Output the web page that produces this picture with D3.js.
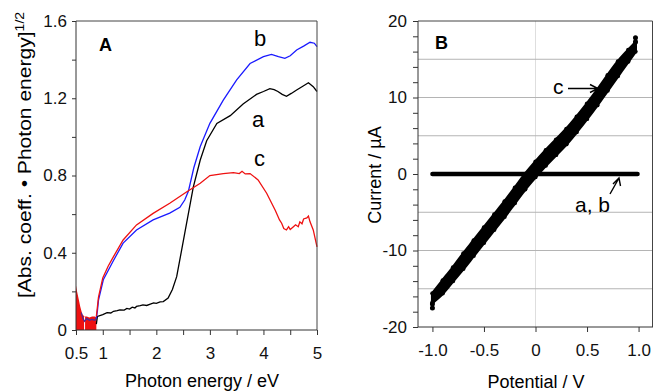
<!DOCTYPE html>
<html>
<head>
<meta charset="utf-8">
<script src="https://cdn.jsdelivr.net/npm/d3@7"></script>
<style>
  body { margin: 0; background: #fff; }
  svg { display: block; font-family: "Liberation Sans", Arial, sans-serif; }
  .axis path, .axis line { stroke: #333; }
  .axis text { font-size: 17px; fill: #111; font-family: "Liberation Sans", Arial, sans-serif; }
</style>
</head>
<body>
<svg id="chart" width="654" height="391"></svg>
<script>
// ---- Panel A: absorption spectra ----
const lowE = [0.5, 0.52, 0.55, 0.58, 0.6, 0.62, 0.64, 0.66, 0.7, 0.75, 0.8, 0.85, 0.88];
const lowRed = [0.23, 0.2, 0.16, 0.12, 0.1, 0.08, 0.075, 0.07, 0.07, 0.065, 0.07, 0.07, 0.065];
const lowBlueE = [0.6, 0.63, 0.66, 0.7, 0.75, 0.8, 0.85, 0.88];
const lowBlue = [0.09, 0.06, 0.045, 0.06, 0.05, 0.055, 0.05, 0.06];

const aE = [0.88, 0.9, 1.0, 1.08, 1.15, 1.2, 1.27, 1.32, 1.4, 1.45, 1.5, 1.55, 1.6, 1.63, 1.7, 1.75, 1.82, 1.9, 1.95, 2.0, 2.07, 2.13, 2.22, 2.3, 2.38, 2.53, 2.69, 2.82, 2.94, 3.13, 3.38, 3.62, 3.87, 4.0, 4.12, 4.2, 4.27, 4.35, 4.43, 4.52, 4.62, 4.75, 4.84, 4.93, 5.0];
const aVal = [0.03, 0.07, 0.08, 0.09, 0.088, 0.097, 0.1, 0.104, 0.103, 0.112, 0.108, 0.118, 0.114, 0.122, 0.126, 0.13, 0.127, 0.135, 0.14, 0.138, 0.146, 0.147, 0.165, 0.21, 0.276, 0.5, 0.74, 0.88, 0.98, 1.07, 1.11, 1.17, 1.22, 1.235, 1.25, 1.245, 1.235, 1.22, 1.21, 1.225, 1.243, 1.265, 1.28, 1.26, 1.235];

const bE = [0.88, 0.9, 0.92, 1.01, 1.2, 1.38, 1.63, 1.94, 2.25, 2.44, 2.53, 2.6, 2.7, 2.82, 3.0, 3.25, 3.5, 3.75, 4.0, 4.15, 4.28, 4.4, 4.5, 4.62, 4.75, 4.87, 4.95, 5.0];
const bVal = [0.06, 0.1, 0.155, 0.26, 0.36, 0.45, 0.518, 0.57, 0.605, 0.635, 0.673, 0.72, 0.84, 0.95, 1.07, 1.19, 1.295, 1.38, 1.415, 1.427, 1.415, 1.407, 1.42, 1.45, 1.47, 1.49, 1.485, 1.467];

const cE = [0.88, 0.9, 0.92, 1.0, 1.1, 1.2, 1.38, 1.63, 1.94, 2.25, 2.57, 2.82, 3.0, 3.25, 3.44, 3.55, 3.6, 3.66, 3.75, 3.9, 4.06, 4.22, 4.3, 4.34, 4.38, 4.43, 4.47, 4.5, 4.56, 4.6, 4.65, 4.68, 4.72, 4.75, 4.81, 4.84, 4.87, 4.93, 5.0];
const cVal = [0.07, 0.12, 0.17, 0.27, 0.33, 0.38, 0.466, 0.544, 0.604, 0.656, 0.716, 0.76, 0.8, 0.81, 0.815, 0.81, 0.822, 0.808, 0.81, 0.777, 0.708, 0.62, 0.57, 0.553, 0.525, 0.518, 0.535, 0.52, 0.535, 0.545, 0.535, 0.56, 0.55, 0.575, 0.58, 0.59, 0.56, 0.518, 0.43];

const aYTicks = [0, 0.2, 0.4, 0.6, 0.8, 1.0, 1.2, 1.4, 1.6];
const aYLabels = ["0", "", "0.4", "", "0.8", "", "1.2", "", "1.6"];
const aXTicks = [0.5, 1, 1.5, 2, 2.5, 3, 3.5, 4, 4.5, 5];
const aXLabels = ["0.5", "1", "", "2", "", "3", "", "4", "", "5"];

// ---- Panel B: current-potential curves ----
const ivV = [-1.0, -0.9, -0.8, -0.7, -0.6, -0.5, -0.4, -0.3, -0.2, -0.1, 0, 0.1, 0.2, 0.3, 0.4, 0.5, 0.6, 0.7, 0.8, 0.9, 0.97];
const ivUpper = [-15.6, -13.9, -12.2, -10.4, -8.7, -7.0, -5.3, -3.6, -1.8, 0.0, 1.6, 3.1, 4.5, 5.9, 7.5, 9.2, 11.0, 12.9, 14.7, 16.2, 17.2];
const ivLower = [-16.8, -15.6, -14.0, -12.4, -10.7, -9.0, -7.3, -5.6, -3.8, -2.0, -0.4, 1.1, 2.5, 3.9, 5.5, 7.2, 9.0, 10.9, 12.8, 14.7, 16.0];
const ivEndV = [0.97, 0.97, -1.0, -1.0];
const ivEndI = [17.8, 17.3, -17.5, -17.0];
const abV = [-1.0, -0.5, 0, 0.5, 0.99];
const abI = [0, 0, 0, 0, 0];

const bYTicks = d3.range(-20, 21, 2);
const bYLabeled = [-20, -10, 0, 10, 20];
const bXTicks = [-1.0, -0.5, 0, 0.5, 1.0];
const bXLabels = ["-1.0", "-0.5", "0", "0.5", "1.0"];
const bGrid = [-15, -10, -5, 5, 10, 15];

const svg = d3.select("#chart");

// ================= Panel A =================
const xA = d3.scaleLinear().domain([0.5, 5]).range([76, 317]);
const yA = d3.scaleLinear().domain([0, 1.6]).range([330, 21]);

const gA = svg.append("g");

// low energy noise (filled)
gA.append("path")
  .datum(lowE.map((e, i) => [e, lowRed[i]]))
  .attr("fill", "#ee1111")
  .attr("d", d3.area().x(d => xA(d[0])).y0(yA(0)).y1(d => yA(d[1])));
gA.append("line")
  .attr("x1", xA(0.66)).attr("x2", xA(0.66))
  .attr("y1", yA(0)).attr("y2", yA(0.07))
  .attr("stroke", "#fff").attr("stroke-width", 1);

const lineA = d3.line().x(d => xA(d[0])).y(d => yA(d[1]));

gA.append("path")
  .datum(lowBlueE.map((e, i) => [e, lowBlue[i]]))
  .attr("fill", "none").attr("stroke", "#4a2a9a").attr("stroke-width", 1.2)
  .attr("d", lineA);

gA.append("path")
  .datum(aE.map((e, i) => [e, aVal[i]]))
  .attr("fill", "none").attr("stroke", "#000").attr("stroke-width", 1.3)
  .attr("d", lineA);

gA.append("path")
  .datum(bE.map((e, i) => [e, bVal[i]]))
  .attr("fill", "none").attr("stroke", "#1a1aff").attr("stroke-width", 1.3)
  .attr("d", lineA);

gA.append("path")
  .datum(cE.map((e, i) => [e, cVal[i]]))
  .attr("fill", "none").attr("stroke", "#ee1111").attr("stroke-width", 1.3)
  .attr("d", lineA);

// frame
gA.append("path")
  .attr("d", `M${xA(0.5)},${yA(1.6)}H${xA(5)}V${yA(0)}`)
  .attr("fill", "none").attr("stroke", "#444").attr("stroke-width", 1);

gA.append("g").attr("class", "axis")
  .attr("transform", `translate(0,${yA(0)})`)
  .call(d3.axisBottom(xA).tickValues(aXTicks).tickSize(5).tickPadding(12)
    .tickFormat((d, i) => aXLabels[i]))
  .call(g => g.select(".domain").attr("d", `M${xA(0.5)},0H${xA(5)}`));

gA.append("g").attr("class", "axis")
  .attr("transform", `translate(${xA(0.5)},0)`)
  .call(d3.axisLeft(yA).tickValues(aYTicks).tickSize(4).tickPadding(5)
    .tickFormat((d, i) => aYLabels[i]))
  .call(g => g.select(".domain").attr("d", `M0,${yA(0)}V${yA(1.6)}`));

gA.append("text").attr("x", 99).attr("y", 51)
  .attr("font-size", 18).attr("font-weight", "bold").text("A");
gA.append("text").attr("x", 254).attr("y", 46).attr("font-size", 22).text("b");
gA.append("text").attr("x", 252).attr("y", 127).attr("font-size", 22).text("a");
gA.append("text").attr("x", 254).attr("y", 166).attr("font-size", 22).text("c");

gA.append("text")
  .attr("x", 202).attr("y", 387)
  .attr("text-anchor", "middle").attr("font-size", 18)
  .text("Photon energy / eV");

const yTitleA = gA.append("text")
  .attr("transform", "translate(31,155) rotate(-90) scale(1.17,1)")
  .attr("text-anchor", "middle").attr("font-size", 18);
yTitleA.append("tspan").text("[Abs. coeff. \u2022 Photon energy]");
yTitleA.append("tspan").attr("dy", -7).attr("font-size", 12).text("1/2");

// ================= Panel B =================
const xB = d3.scaleLinear().domain([-1.14, 1.14]).range([418, 653]);
const yB = d3.scaleLinear().domain([-20, 20]).range([327, 21]);

const gB = svg.append("g");

// grid
gB.append("line")
  .attr("x1", xB(0)).attr("x2", xB(0))
  .attr("y1", yB(20)).attr("y2", yB(-20))
  .attr("stroke", "#dedede").attr("stroke-width", 1);
gB.selectAll(".hgrid").data(bGrid).join("line")
  .attr("class", "hgrid")
  .attr("x1", xB(-1.14)).attr("x2", xB(1.14))
  .attr("y1", d => yB(d)).attr("y2", d => yB(d))
  .attr("stroke", "#b4b4b4").attr("stroke-width", 1);

// a, b flat line
gB.append("path")
  .datum(abV.map((v, i) => [v, abI[i]]))
  .attr("fill", "none").attr("stroke", "#000").attr("stroke-width", 4.5)
  .attr("stroke-linecap", "round")
  .attr("d", d3.line().x(d => xB(d[0])).y(d => yB(d[1])));

// c band
const band = ivV.map((v, i) => ({v: v, up: ivUpper[i], lo: ivLower[i]}));
gB.append("path")
  .datum(band)
  .attr("fill", "#000").attr("stroke", "#000").attr("stroke-width", 3)
  .attr("stroke-linejoin", "round")
  .attr("d", d3.area().curve(d3.curveMonotoneX)
    .x(d => xB(d.v)).y0(d => yB(d.lo)).y1(d => yB(d.up)));
gB.selectAll(".ivdot").data(band.flatMap(d => [[d.v, d.up], [d.v, d.lo]])).join("circle")
  .attr("class", "ivdot")
  .attr("cx", d => xB(d[0])).attr("cy", d => yB(d[1])).attr("r", 2.2).attr("fill", "#000");
gB.selectAll(".enddot").data(ivEndV.map((v, i) => [v, ivEndI[i]])).join("circle")
  .attr("class", "enddot")
  .attr("cx", d => xB(d[0])).attr("cy", d => yB(d[1])).attr("r", 2.5).attr("fill", "#000");

// frame
gB.append("path")
  .attr("d", `M${xB(-1.14)},${yB(20)}H${xB(1.14) - 0.5}V${yB(-20)}`)
  .attr("fill", "none").attr("stroke", "#444").attr("stroke-width", 1);

gB.append("g").attr("class", "axis")
  .attr("transform", `translate(0,${yB(-20)})`)
  .call(d3.axisBottom(xB).tickValues(bXTicks).tickSize(5).tickPadding(12)
    .tickFormat((d, i) => bXLabels[i]))
  .call(g => g.select(".domain").attr("d", `M${xB(-1.14)},0H${xB(1.14)}`));

gB.append("g").attr("class", "axis")
  .attr("transform", `translate(${xB(-1.14)},0)`)
  .call(d3.axisLeft(yB).tickValues(bYTicks).tickSize(5).tickPadding(6)
    .tickFormat(d => bYLabeled.includes(d) ? String(d) : ""))
  .call(g => g.select(".domain").attr("d", `M0,${yB(-20)}V${yB(20)}`));

gB.append("text").attr("x", 435).attr("y", 49)
  .attr("font-size", 18).attr("font-weight", "bold").text("B");

// c label + arrow
gB.append("text").attr("x", 553).attr("y", 94).attr("font-size", 21).text("c");
gB.append("path")
  .attr("d", "M568,88.5H598M590,84.5L598,88.5L590,92.5")
  .attr("fill", "none").attr("stroke", "#000").attr("stroke-width", 1.4);

// a, b label + arrow
gB.append("text").attr("x", 575).attr("y", 212).attr("font-size", 21).text("a, b");
gB.append("path")
  .attr("d", "M610,194L619,178M613,184L619,178L620.5,186")
  .attr("fill", "none").attr("stroke", "#000").attr("stroke-width", 1.4);

gB.append("text")
  .attr("x", 536).attr("y", 388)
  .attr("text-anchor", "middle").attr("font-size", 18)
  .text("Potential / V");

gB.append("text")
  .attr("transform", "translate(381,175) rotate(-90)")
  .attr("text-anchor", "middle").attr("font-size", 18)
  .text("Current / \u00b5A");
</script>
</body>
</html>
